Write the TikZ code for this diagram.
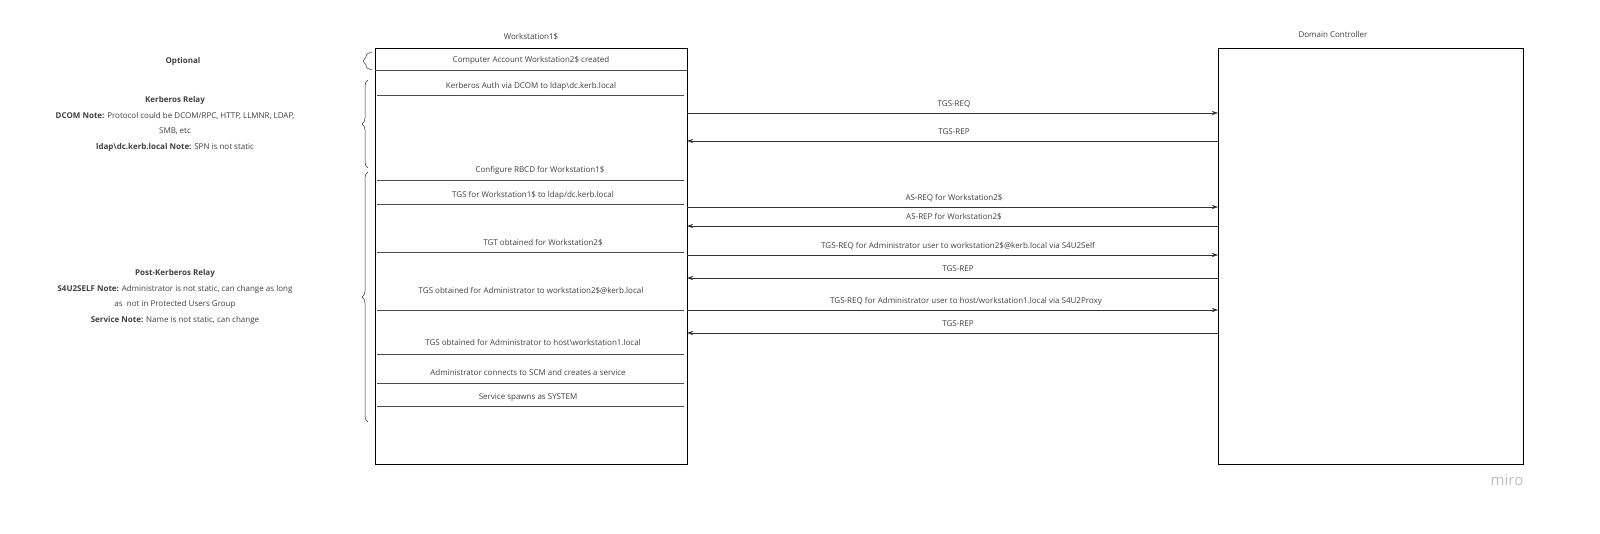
\documentclass[tikz,border=0pt]{standalone}
\usepackage{fontspec}
\setmainfont{Open Sans}
\usetikzlibrary{arrows.meta,decorations.pathreplacing}
\begin{document}
\begin{tikzpicture}[x=1pt,y=-1pt,
  txt/.style={font=\fontsize{8}{9}\selectfont, text=black!75, inner sep=0pt},
  note/.style={font=\fontsize{8}{15.5}\selectfont, text=black!75, align=center, inner sep=0pt},
  sep/.style={draw=black!70, line width=0.5pt},
  msg/.style={draw=black!80, line width=0.6pt, -{Stealth[length=6pt,width=4pt]}},
  brc/.style={draw=black!80, line width=0.5pt, decorate, decoration={brace, amplitude=6pt}}]
\useasboundingbox (0,0) rectangle (1600,534);
\node[txt] (wt) at (531,37) {Workstation1\$};
\node[txt] (dt) at (1333,35) {Domain Controller};
\draw[line width=0.8pt] (375,48) rectangle (687,464);
\draw[line width=0.8pt] (1218,48) rectangle (1523,464);
\coordinate (wsR) at (687,0);
\coordinate (dcL) at (1218,0);
% rows
\node[txt] (r1) at (531,60) {Computer Account Workstation2\$ created};
\draw[sep] (375,70) -- (687,70);
\node[txt] (r2) at (531,86) {Kerberos Auth via DCOM to ldap\textbackslash dc.kerb.local};
\draw[sep] (377,95) -- (684,95);
\node[txt] (r3) at (540,170) {Configure RBCD for Workstation1\$};
\draw[sep] (377,180) -- (684,180);
\node[txt] (r4) at (533,195) {TGS for Workstation1\$ to ldap/dc.kerb.local};
\draw[sep] (377,204) -- (684,204);
\node[txt] (r5) at (543,243) {TGT obtained for Workstation2\$};
\draw[sep] (377,252) -- (684,252);
\node[txt] (r6) at (531,291) {TGS obtained for Administrator to workstation2\$@kerb.local};
\draw[sep] (377,310) -- (684,310);
\node[txt] (r7) at (533,342) {TGS obtained for Administrator to host\textbackslash workstation1.local};
\draw[sep] (377,354) -- (684,354);
\node[txt] (r8) at (528,372) {Administrator connects to SCM and creates a service};
\draw[sep] (377,383) -- (684,383);
\node[txt] (r9) at (528,398) {Service spawns as SYSTEM};
\draw[sep] (377,406) -- (684,406);
% messages
\foreach \y/\lab/\dir/\lx in {
  113/{TGS-REQ}/1/954,
  141/{TGS-REP}/0/954,
  207/{AS-REQ for Workstation2\$}/1/954,
  226/{AS-REP for Workstation2\$}/0/954,
  255/{TGS-REQ for Administrator user to workstation2\$@kerb.local via S4U2Self}/1/958,
  278/{TGS-REP}/0/958,
  310/{TGS-REQ for Administrator user to host{/}workstation1.local via S4U2Proxy}/1/966,
  333/{TGS-REP}/0/958}{
  \ifnum\dir=1
    \draw[msg] (wsR |- 0,\y) -- (dcL |- 0,\y);
  \else
    \draw[msg] (dcL |- 0,\y) -- (wsR |- 0,\y);
  \fi
  \node[txt] at (\lx,\y-9) {\lab};
}
% braces
\draw[draw=black!80, line width=0.5pt] (372,52) .. controls (366,54) .. (366,57) -- (363,61) -- (366,65) .. controls (366,68) .. (372,70);
\draw[brc] (368,168) -- (368,80);
\draw[brc] (368,422) -- (368,172);
% notes
\node[note] (n1) at (183,61) {\textbf{Optional}};
\node[note] (n2) at (175,124) {\textbf{Kerberos Relay}\\ \textbf{DCOM Note:} Protocol could be DCOM/RPC, HTTP, LLMNR, LDAP,\\ SMB, etc\\ \textbf{ldap\textbackslash dc.kerb.local Note:} SPN is not static};
\node[note] (n3) at (175,297) {\textbf{Post-Kerberos Relay}\\ \textbf{S4U2SELF Note:} Administrator is not static, can change as long\\ as\ \ not in Protected Users Group\\ \textbf{Service Note:} Name is not static, can change};
\node[font=\fontsize{15}{15}\selectfont, text=black!25, inner sep=0pt] (miro) at (1507,480) {miro};
\end{tikzpicture}
\end{document}
